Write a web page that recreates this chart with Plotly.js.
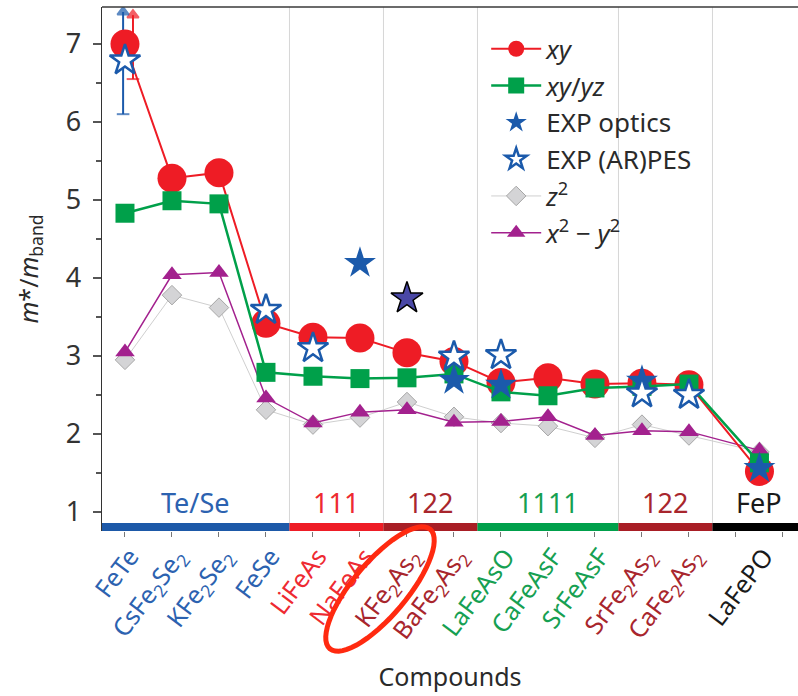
<!DOCTYPE html>
<html>
<head>
<meta charset="utf-8">
<script src="https://cdn.plot.ly/plotly-3.0.1.min.js"></script>
<style>
  html, body { margin: 0; padding: 0; background: #ffffff; }
  #chart { width: 798px; height: 696px; }
</style>
</head>
<body>
<div id="chart"></div>
<script>
// Compounds along the x axis (slot = position on the axis)
const compounds = ['FeTe', 'CsFe<sub>2</sub>Se<sub>2</sub>', 'KFe<sub>2</sub>Se<sub>2</sub>', 'FeSe',
  'LiFeAs', 'NaFeAs', 'KFe<sub>2</sub>As<sub>2</sub>', 'BaFe<sub>2</sub>As<sub>2</sub>',
  'LaFeAsO', 'CaFeAsF', 'SrFeAsF', 'SrFe<sub>2</sub>As<sub>2</sub>', 'CaFe<sub>2</sub>As<sub>2</sub>', 'LaFePO'];
const slot = [0, 1, 2, 3, 4, 5, 6, 7, 8, 9, 10, 11, 12, 13.5];
const compoundGroup = [0, 0, 0, 0, 1, 1, 2, 2, 3, 3, 3, 4, 4, 5];
const tickSlots = [0, 1, 2, 3, 4, 5, 6, 7, 8, 9, 10, 11, 12, 13, 14];

// Structural families
const groupNames = ['Te/Se', '111', '122', '1111', '122', 'FeP'];
const groupFrom = [-0.5, 3.5, 5.5, 7.5, 10.5, 12.5];
const groupTo = [3.5, 5.5, 7.5, 10.5, 12.5, 14.5];
const groupColors = ['#1d59a8', '#ee1d26', '#a81e25', '#00a04b', '#a81e25', '#000000'];
const labelColors = ['#2c62b0', '#ee2a31', '#a8262d', '#16a052', '#a8262d', '#1a1a1a'];

// Mass enhancement m*/m_band per orbital (theory)
const massXY = [7.00, 5.28, 5.35, 3.42, 3.24, 3.23, 3.04, 2.93, 2.66, 2.72, 2.64, 2.65, 2.63, 1.52];
const massXZYZ = [4.83, 4.99, 4.95, 2.79, 2.74, 2.71, 2.72, 2.77, 2.54, 2.49, 2.59, 2.61, 2.64, 1.63];
const massZ2 = [2.95, 3.78, 3.62, 2.31, 2.12, 2.21, 2.41, 2.22, 2.14, 2.10, 1.95, 2.12, 1.98, 1.77];
const massX2Y2 = [3.05, 4.04, 4.07, 2.46, 2.14, 2.28, 2.31, 2.15, 2.16, 2.22, 1.98, 2.04, 2.03, 1.79];

// Experimental values
const expOptics = [null, null, null, null, null, 4.19, null, 2.69, 2.63, null, null, 2.68, null, 1.56];
const expOpticsAlt = [null, null, null, null, null, null, 3.74, null, null, null, null, null, null, null];
const expArpes = [6.79, null, null, 3.59, 3.10, null, null, 2.99, 3.01, null, null, 2.52, 2.50, null];

// FeTe lower bounds: [lower end of bar, arrow tip, x offset from FeTe]
const feTeBoundXY = [6.55, 7.37, 0.17];
const feTeBoundArpes = [6.10, 7.41, -0.04];

const RED = '#ee1c25', GREEN = '#00a04a', BLUE = '#1b5aab', PURPLE = '#a3218e';

function colored(k) {
  return '<span style="color:' + labelColors[compoundGroup[k]] + '">' + compounds[k] + '</span>';
}
const ticktext = compounds.map(function (c, k) { return colored(k); });

function boundTrace(b, color) {
  const x = slot[0] + b[2];
  return { x: [x, x], y: [b[0], b[1]], mode: 'lines+markers', showlegend: false, hoverinfo: 'skip',
    line: { color: color, width: 2 },
    marker: { symbol: ['line-ew-open', 'triangle-up'], size: [9, 10], color: color,
      line: { color: color, width: 2 } } };
}

const traces = [
  { x: slot, y: massZ2, mode: 'lines+markers', name: '<i>z</i><sup>2</sup>', legendrank: 5,
    line: { color: '#cfcfcf', width: 1 },
    marker: { symbol: 'diamond', size: 15, color: '#d4d4d6', line: { color: '#a6a6a6', width: 1 } } },
  { x: slot, y: massX2Y2, mode: 'lines+markers', name: '<i>x</i><sup>2</sup> − <i>y</i><sup>2</sup>', legendrank: 6,
    line: { color: PURPLE, width: 1.5 },
    marker: { symbol: 'triangle-up', size: 17, color: PURPLE } },
  boundTrace(feTeBoundXY, RED),
  boundTrace(feTeBoundArpes, BLUE),
  { x: slot, y: massXY, mode: 'lines+markers', name: '<i>xy</i>', legendrank: 1,
    line: { color: RED, width: 2 },
    marker: { symbol: 'circle', size: 29, color: RED } },
  { x: slot, y: massXZYZ, mode: 'lines+markers', name: '<i>xy</i>/<i>yz</i>', legendrank: 2,
    line: { color: GREEN, width: 2.5 },
    marker: { symbol: 'square', size: 19, color: GREEN } },
  { x: slot, y: expOptics, mode: 'markers', name: 'EXP optics', legendrank: 3,
    marker: { symbol: 'star', size: 24, color: BLUE } },
  { x: slot, y: expArpes, mode: 'markers', name: 'EXP (AR)PES', legendrank: 4,
    marker: { symbol: 'star', size: 23, color: '#ffffff', line: { color: BLUE, width: 2.5 } } },
  { x: slot, y: expOpticsAlt, mode: 'markers', showlegend: false,
    marker: { symbol: 'star', size: 24, color: '#4a48a6', line: { color: '#000000', width: 1.5 } } },
  // carries the tick-mark axis
  { x: tickSlots, y: tickSlots.map(function () { return null; }), xaxis: 'x2', mode: 'markers',
    showlegend: false, hoverinfo: 'skip' }
];

// Plot-area geometry used for the decorations drawn in paper coordinates
const PLOT_L = 102, PLOT_R = 798, PLOT_T = 7, PLOT_B = 531;
function toPaper(px, py) {
  return [(px - PLOT_L) / (PLOT_R - PLOT_L), (PLOT_B - py) / (PLOT_B - PLOT_T)];
}
function ellipsePath(cx, cy, a, b, angDeg) {
  const t = angDeg * Math.PI / 180;
  let d = '';
  for (let i = 0; i <= 60; i++) {
    const p = 2 * Math.PI * i / 60;
    const ex = a * Math.cos(p), ey = b * Math.sin(p);
    const px = cx + ex * Math.cos(t) - ey * Math.sin(t);
    const py = cy - (ex * Math.sin(t) + ey * Math.cos(t));
    const q = toPaper(px, py);
    d += (i === 0 ? 'M' : 'L') + q[0].toFixed(4) + ',' + q[1].toFixed(4);
  }
  return d + 'Z';
}

const shapes = [];
// family separators
for (let g = 1; g < groupFrom.length; g++) {
  shapes.push({ type: 'line', xref: 'x', yref: 'paper', x0: groupFrom[g], x1: groupFrom[g], y0: 0, y1: 1,
    line: { color: '#d6d6d6', width: 1 }, layer: 'below' });
}
// coloured family bar along the bottom
for (let g = 0; g < groupFrom.length; g++) {
  shapes.push({ type: 'rect', xref: 'x', yref: 'paper', ysizemode: 'pixel', yanchor: 0,
    x0: groupFrom[g], x1: groupTo[g], y0: 0, y1: 8,
    fillcolor: groupColors[g], line: { width: 0 }, layer: 'above' });
}
// frame top
shapes.push({ type: 'line', xref: 'paper', yref: 'paper', x0: 0, x1: 1, y0: 1, y1: 1,
  line: { color: '#3a3a3a', width: 1.5 } });
// highlight ring round one compound label
shapes.push({ type: 'path', xref: 'paper', yref: 'paper', path: ellipsePath(380, 589, 78, 27, 50),
  line: { color: '#ff2a10', width: 5 }, fillcolor: 'rgba(0,0,0,0)' });

const annotations = [];
for (let g = 0; g < groupNames.length; g++) {
  annotations.push({ x: (groupFrom[g] + groupTo[g]) / 2, xref: 'x', y: 0, yref: 'paper',
    yanchor: 'bottom', yshift: 8, showarrow: false, text: groupNames[g],
    font: { size: 27, color: labelColors[g] } });
}

const XR = [-0.489, 14.32];
const layout = {
  width: 798, height: 696,
  margin: { l: PLOT_L, r: 798 - PLOT_R, t: PLOT_T, b: 696 - PLOT_B },
  paper_bgcolor: '#ffffff', plot_bgcolor: '#ffffff',
  font: { family: 'Noto Sans, Open Sans, sans-serif', color: '#2a2a2a' },
  showlegend: true,
  legend: { x: 0.552, y: 0.965, xanchor: 'left', yanchor: 'top', bgcolor: 'rgba(0,0,0,0)',
    font: { size: 26, color: '#2a2a2a' }, itemwidth: 50, traceorder: 'normal' },
  xaxis: {
    range: XR, tickmode: 'array', tickvals: slot, ticktext: ticktext,
    tickangle: -53, ticks: '', tickfont: { size: 25 }, ticklabelstandoff: 5, ticklabelshift: 5,
    showline: false, showgrid: false, zeroline: false,
    title: { text: 'Compounds', font: { size: 25, color: '#2a2a2a' }, standoff: 22 }
  },
  xaxis2: {
    overlaying: 'x', anchor: 'y', side: 'bottom', range: XR,
    tickmode: 'array', tickvals: tickSlots, showticklabels: false,
    ticks: 'outside', ticklen: 5, tickcolor: '#777', tickwidth: 1,
    showline: false, showgrid: false, zeroline: false
  },
  yaxis: {
    range: [0.756, 7.474], tickmode: 'array', tickvals: [1, 2, 3, 4, 5, 6, 7],
    ticks: 'outside', ticklen: 8, tickwidth: 1.5, tickcolor: '#555',
    minor: { tickmode: 'linear', tick0: 0.5, dtick: 0.5, ticks: 'outside', ticklen: 5, tickwidth: 1.5, tickcolor: '#555' },
    tickfont: { size: 27, color: '#333' }, ticklabelstandoff: 6,
    showline: true, linecolor: '#333', linewidth: 1.5, showgrid: false, zeroline: false,
    title: { text: '<i>m</i>*/<i>m</i><sub>band</sub>', font: { size: 25, color: '#2a2a2a' }, standoff: 20 }
  },
  shapes: shapes,
  annotations: annotations
};

Plotly.newPlot('chart', traces, layout, { displayModeBar: false, staticPlot: true });
</script>
</body>
</html>
